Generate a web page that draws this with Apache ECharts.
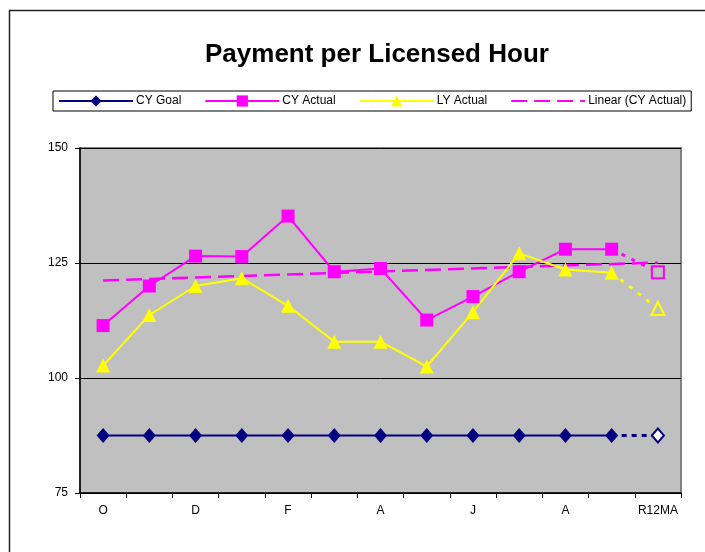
<!DOCTYPE html>
<html>
<head>
<meta charset="utf-8">
<script src="https://cdn.jsdelivr.net/npm/echarts@6/dist/echarts.min.js"></script>
<style>
html,body{margin:0;padding:0;background:#fff;}
#chart{width:705px;height:552px;}
</style>
</head>
<body>
<div id="chart"></div>
<script>
// categories (months + rolling 12 month average)
const categories = ['O','N','D','J','F','M','A','M','J','J','A','S','R12MA']
const cyGoal = [87.5,87.5,87.5,87.5,87.5,87.5,87.5,87.5,87.5,87.5,87.5,87.5]
const cyActual = [111.4,120.0,126.5,126.4,135.2,123.1,123.8,112.6,117.7,123.1,128.0,128.0]
const lyActual = [102.7,113.7,120.0,121.7,115.7,107.9,107.9,102.5,114.3,127.1,123.6,122.9]
// R12MA values (dotted, hollow markers)
const goalR12 = 87.5
const cyActualR12 = 123.0
const lyActualR12 = 115.1
// linear trend of CY Actual, end points
const trendStart = 121.2
const trendEnd = 125.1
const yTicks = [75,100,125,150]

let n = categories.length
// main series: months only
let pad = arr => arr.concat(new Array(n - arr.length).fill(null))
// dotted piece from last month to R12MA
let ext = (arr, last) => {
  let d = new Array(n).fill(null)
  d[arr.length - 1] = arr[arr.length - 1]
  d[n - 1] = last
  return d
}
let trend = new Array(n).fill(null)
trend[0] = trendStart
trend[n - 1] = trendEnd

let lastOnly = (sym) => (v, p) => p.dataIndex === n - 1 ? sym : 'none'

let myChart = echarts.init(document.getElementById('chart'))
myChart.setOption({
  animation:false,
  textStyle:{fontFamily:'"Liberation Sans", Arial, sans-serif'},
  title:{
    text:'Payment per Licensed Hour',
    left:200,
    top:37,
    textStyle:{fontSize:26,fontWeight:'bold',color:'#000'},
  },
  graphic:[{
    type:'rect',
    left:7,top:8,
    shape:{width:760,height:600},
    style:{fill:'none',stroke:'#222',lineWidth:1.5},
    silent:true
  }],
  legend:{
    data:['CY Goal','CY Actual','LY Actual',
      {name:'Linear (CY Actual)',itemStyle:{opacity:0}}],
    left:53,
    top:91,
    padding:[4,5,4,5],
    itemWidth:74,
    itemHeight:14,
    itemGap:23,
    borderColor:'#000',
    borderWidth:1,
    textStyle:{fontSize:12,color:'#000',padding:[0,0,0,-2]},
  },
  grid:{
    left:80,right:24,top:148,bottom:59,
    show:true,
    backgroundColor:'#C0C0C0',
    borderColor:'#808080',
    borderWidth:2,
  },
  xAxis:{
    type:'category',
    data:categories,
    boundaryGap:true,
    axisLine:{lineStyle:{color:'#000',width:1.5}},
    axisTick:{show:true,length:5,interval:0,lineStyle:{color:'#000'}},
    axisLabel:{interval:1,color:'#000',fontSize:12,margin:12},
  },
  yAxis:{
    type:'value',
    min:yTicks[0],
    max:yTicks[yTicks.length - 1],
    interval:25,
    axisLine:{show:true,lineStyle:{color:'#000',width:1.5}},
    axisTick:{show:true,length:5,lineStyle:{color:'#000'}},
    axisLabel:{color:'#000',fontSize:12,margin:12},
    splitLine:{lineStyle:{color:'#000',width:1}},
  },
  series:[
    {
      name:'CY Goal',type:'line',data:pad(cyGoal),
      symbol:'diamond',symbolSize:[13,15],
      lineStyle:{color:'#000080',width:2},
      itemStyle:{color:'#000080'},
      z:5
    },
    {
      name:'CY Actual',type:'line',data:pad(cyActual),
      symbol:'rect',symbolSize:13,
      lineStyle:{color:'#FF00FF',width:2},
      itemStyle:{color:'#FF00FF'},
      z:5
    },
    {
      name:'LY Actual',type:'line',data:pad(lyActual),
      symbol:'triangle',symbolSize:14,
      lineStyle:{color:'#FFFF00',width:2},
      itemStyle:{color:'#FFFF00'},
      z:5
    },
    {
      name:'Linear (CY Actual)',type:'line',data:trend,
      connectNulls:true,symbol:'none',
      lineStyle:{color:'#FF00FF',width:2.5,type:[16,7]},
      itemStyle:{color:'#FF00FF'},
      z:4
    },
    {
      name:'goalR12',type:'line',data:ext(cyGoal,goalR12),
      connectNulls:true,symbol:lastOnly('diamond'),symbolSize:[12,14],
      lineStyle:{color:'#000080',width:3,type:[5,5]},
      itemStyle:{color:'#ffffff',borderColor:'#000080',borderWidth:2},
      z:3
    },
    {
      name:'cyR12',type:'line',data:ext(cyActual,cyActualR12),
      connectNulls:true,symbol:lastOnly('rect'),symbolSize:12,
      lineStyle:{color:'#FF00FF',width:3,type:[4,7]},
      itemStyle:{color:'#C0C0C0',borderColor:'#FF00FF',borderWidth:2},
      z:3
    },
    {
      name:'lyR12',type:'line',data:ext(lyActual,lyActualR12),
      connectNulls:true,symbol:lastOnly('triangle'),symbolSize:13,
      lineStyle:{color:'#FFFF00',width:3,type:[4,7]},
      itemStyle:{color:'#C0C0C0',borderColor:'#FFFF00',borderWidth:2},
      z:3
    }
  ]
})
</script>
</body>
</html>
